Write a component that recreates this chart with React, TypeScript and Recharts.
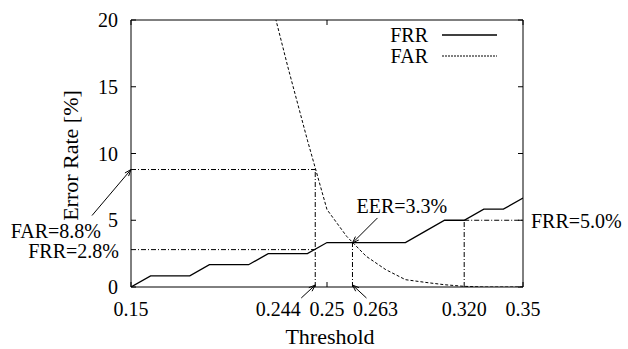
import React from 'react';
import { LineChart, Line, XAxis, YAxis, ReferenceLine, ReferenceDot, Legend, Label } from 'recharts';

// threshold grid and the two error curves
const thresholds = [0.15, 0.16, 0.17, 0.18, 0.19, 0.2, 0.21, 0.22, 0.23, 0.24, 0.25, 0.26, 0.27, 0.28, 0.29, 0.3, 0.31, 0.32, 0.33, 0.34, 0.35];
const frrValues = [0, 0.83, 0.83, 0.83, 1.67, 1.67, 1.67, 2.5, 2.5, 2.5, 3.33, 3.33, 3.33, 3.33, 3.33, 4.17, 5.0, 5.0, 5.83, 5.83, 6.67];
const farValues = [null, null, null, null, null, null, null, 22.3, 16.5, 11.0, 5.8, 3.8, 2.3, 1.3, 0.55, 0.35, 0.17, 0.05, 0, 0, 0];

const xTickValues = [0.15, 0.244, 0.25, 0.263, 0.32, 0.35];
const xTickLabels = ['0.15', '0.244', '0.25', '0.263', '0.320', '0.35'];
const majorXTicks = [0.15, 0.25, 0.35];
const yTickValues = [0, 5, 10, 15, 20];

// marked operating points
const farPoint = { t: 0.244, far: 8.8, frr: 2.8 };
const eerPoint = { t: 0.263, rate: 3.3 };
const frrPoint = { t: 0.32, frr: 5.0 };

const data = thresholds.map((t, i) => ({ t, frr: frrValues[i], far: farValues[i] }));

const FONT = "'Liberation Serif', 'Times New Roman', Tinos, 'Nimbus Roman', 'DejaVu Serif', serif";
const txt = { fontFamily: FONT };
const dashDot = '5 2 1 2';
const labelShift: Record<string, number> = { '0.244': -37, '0.263': 23 };

const XTick = (props: any) => {
  const { x, y, payload } = props;
  const idx = xTickValues.indexOf(payload.value);
  const lbl = xTickLabels[idx] ?? String(payload.value);
  const major = majorXTicks.includes(payload.value);
  return (
    <g>
      {major && <line x1={x} x2={x} y1={y} y2={y - 5} stroke="#000" />}
      <text x={x + (labelShift[lbl] || 0)} y={y + 29} textAnchor="middle" fontSize={20} style={txt} fill="#000">{lbl}</text>
    </g>
  );
};

const TopTick = (props: any) => {
  const { x, y } = props;
  return <line x1={x} x2={x} y1={y} y2={y + 5} stroke="#000" />;
};

const YTick = (props: any) => {
  const { x, y, payload } = props;
  return (
    <g>
      <line x1={x} x2={x + 5} y1={y} y2={y} stroke="#000" />
      <text x={x - 13} y={y + 7} textAnchor="end" fontSize={20} style={txt} fill="#000">{payload.value}</text>
    </g>
  );
};

const RightTick = (props: any) => {
  const { x, y } = props;
  return <line x1={x} x2={x - 5} y1={y} y2={y} stroke="#000" />;
};

const arrow = (x1: number, y1: number, x2: number, y2: number) => {
  const a = Math.atan2(y2 - y1, x2 - x1);
  const h = 7;
  const s = 0.35;
  return (
    <g stroke="#000" strokeWidth={1} fill="none">
      <line x1={x1} y1={y1} x2={x2} y2={y2} />
      <line x1={x2} y1={y2} x2={x2 - h * Math.cos(a - s)} y2={y2 - h * Math.sin(a - s)} />
      <line x1={x2} y1={y2} x2={x2 - h * Math.cos(a + s)} y2={y2 - h * Math.sin(a + s)} />
    </g>
  );
};

const note = (text: string, dx: number, dy: number, anchor: string, tail?: [number, number], head: [number, number] = [0, 0]) =>
  (p: any) => {
    const { cx, cy } = p;
    return (
      <g>
        {tail && arrow(cx + tail[0], cy + tail[1], cx + head[0], cy + head[1])}
        {text && (
          <text x={cx + dx} y={cy + dy} textAnchor={anchor} fontSize={20} style={txt} fill="#000">{text}</text>
        )}
      </g>
    );
  };

const LegendBox = () => (
  <svg width={140} height={50} style={{ display: 'block' }}>
    <text x={48} y={20} textAnchor="end" fontSize={20} style={txt} fill="#000">FRR</text>
    <line x1={62} x2={117} y1={13} y2={13} stroke="#000" strokeWidth={1.3} />
    <text x={48} y={41} textAnchor="end" fontSize={20} style={txt} fill="#000">FAR</text>
    <line x1={62} x2={117} y1={34} y2={34} stroke="#000" strokeWidth={1} strokeDasharray="2 1" />
  </svg>
);

export default function App() {
  return (
    <div style={{ position: 'absolute', left: 0, top: 0, width: 628, height: 349, background: '#fff', fontFamily: FONT }}>
      <LineChart width={628} height={349} data={data} margin={{ top: 0, right: 85, bottom: 0, left: 91 }}>
        <XAxis
          dataKey="t" type="number" domain={[0.15, 0.35]} allowDataOverflow
          ticks={xTickValues} interval={0} tickSize={0} tickMargin={0} tickLine={false}
          tick={<XTick />} height={62} axisLine={{ stroke: '#000' }}
        >
          <Label
            content={({ viewBox }: any) => (
              <text x={viewBox.x + viewBox.width / 2 + 3} y={viewBox.y + 57} textAnchor="middle" fontSize={22} style={txt} fill="#000">Threshold</text>
            )}
          />
        </XAxis>
        <XAxis
          xAxisId="top" orientation="top" dataKey="t" type="number" domain={[0.15, 0.35]} allowDataOverflow
          ticks={majorXTicks} interval={0} tickSize={0} tickMargin={0} tickLine={false}
          tick={<TopTick />} height={20} axisLine={{ stroke: '#000' }}
        />
        <YAxis
          type="number" domain={[0, 20]} allowDataOverflow ticks={yTickValues} interval={0}
          tickSize={0} tickMargin={0} tickLine={false} tick={<YTick />} width={40} axisLine={{ stroke: '#000' }}
        >
          <Label
            content={({ viewBox }: any) => {
              const cx = 78;
              const cy = viewBox.y + viewBox.height / 2 + 2;
              return (
                <text x={cx} y={cy} transform={`rotate(-90 ${cx} ${cy})`} textAnchor="middle" fontSize={22} style={txt} fill="#000">Error Rate [%]</text>
              );
            }}
          />
        </YAxis>
        <YAxis
          yAxisId="right" orientation="right" type="number" domain={[0, 20]} allowDataOverflow ticks={yTickValues}
          interval={0} tickSize={0} tickMargin={0} tickLine={false} tick={<RightTick />} width={20} axisLine={{ stroke: '#000' }}
        />
        <Legend
          layout="vertical" verticalAlign="middle" align="center" content={<LegendBox />}
          wrapperStyle={{ left: 380, top: 22, width: 140, height: 50 }}
        />

        <ReferenceLine segment={[{ x: 0.15, y: farPoint.far }, { x: farPoint.t, y: farPoint.far }]} stroke="#000" strokeDasharray={dashDot} />
        <ReferenceLine segment={[{ x: farPoint.t, y: 0 }, { x: farPoint.t, y: farPoint.far }]} stroke="#000" strokeDasharray={dashDot} />
        <ReferenceLine segment={[{ x: 0.15, y: farPoint.frr }, { x: farPoint.t, y: farPoint.frr }]} stroke="#000" strokeDasharray={dashDot} />
        <ReferenceLine segment={[{ x: eerPoint.t, y: 0 }, { x: eerPoint.t, y: eerPoint.rate }]} stroke="#000" strokeDasharray={dashDot} />
        <ReferenceLine segment={[{ x: frrPoint.t, y: 0 }, { x: frrPoint.t, y: frrPoint.frr }]} stroke="#000" strokeDasharray={dashDot} />
        <ReferenceLine segment={[{ x: frrPoint.t, y: frrPoint.frr }, { x: 0.35, y: frrPoint.frr }]} stroke="#000" strokeDasharray={dashDot} />

        <Line dataKey="frr" name="FRR" stroke="#000" strokeWidth={1.3} dot={false} isAnimationActive={false} type="linear" />
        <Line dataKey="far" name="FAR" stroke="#000" strokeWidth={1} strokeDasharray="3 2" dot={false} isAnimationActive={false} type="linear" />

        <ReferenceDot x={0.15} y={farPoint.far} ifOverflow="visible" shape={note('FAR=8.8%', -30, 68, 'end', [-39, 46])} />
        <ReferenceDot x={0.15} y={farPoint.frr} ifOverflow="visible" shape={note('FRR=2.8%', -12, 8, 'end')} />
        <ReferenceDot x={eerPoint.t} y={eerPoint.rate} ifOverflow="visible" shape={note('EER=3.3%', 4, -30, 'start', [25, -25])} />
        <ReferenceDot x={0.35} y={frrPoint.frr} ifOverflow="visible" shape={note('FRR=5.0%', 8, 8, 'start')} />
        <ReferenceDot x={farPoint.t} y={0} ifOverflow="visible" shape={note('', 0, 0, 'start', [-14, 11], [0, -2])} />
        <ReferenceDot x={eerPoint.t} y={0} ifOverflow="visible" shape={note('', 0, 0, 'start', [14, 11], [0, -2])} />
      </LineChart>
    </div>
  );
}
